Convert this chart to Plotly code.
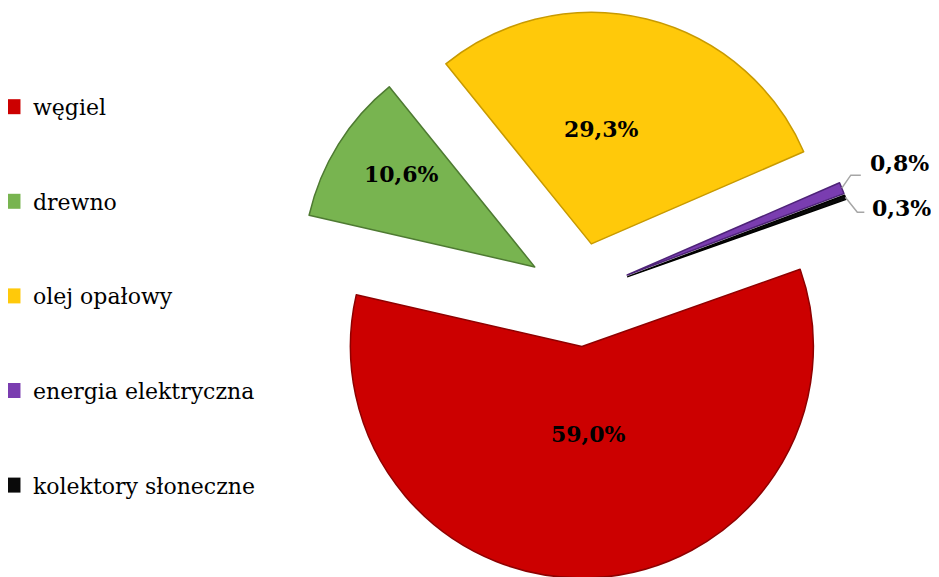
import math
import plotly.graph_objects as go

labels = ["węgiel", "drewno", "olej opałowy", "energia elektryczna", "kolektory słoneczne"]
values = [59.0, 10.6, 29.3, 0.8, 0.3]
text_labels = ["59,0%", "10,6%", "29,3%", "0,8%", "0,3%"]
colors = ["#CC0000", "#78B450", "#FFC90A", "#7A3DB0", "#0A0A0A"]
edge_colors = ["#8E0000", "#4E7A32", "#C89A00", "#4E2378", "#000000"]

W, H = 939, 577
dom_x = [0.306, 0.910]
dom_y = [0.012, 0.995]
rotation = 70.5
pull = 0.225

fig = go.Figure()
fig.add_trace(go.Pie(
    labels=labels, values=values, textinfo="none",
    sort=False, direction="clockwise", rotation=rotation,
    pull=[pull] * len(values),
    marker=dict(colors=colors, line=dict(color=edge_colors, width=1.5)),
    domain=dict(x=dom_x, y=dom_y),
    showlegend=False, hoverinfo="label+percent",
))

# data labels placed from the pie geometry
cx = W * (dom_x[0] + dom_x[1]) / 2
box_h = H * (dom_y[1] - dom_y[0])
cy = H * (1 - dom_y[0]) - box_h / 2
r = min(W * (dom_x[1] - dom_x[0]), box_h) / 2 / (1 + pull)
total = sum(values)
label_font = dict(family="DejaVu Serif", size=22, color="black", weight="bold")
# inside labels: radial position as a fraction of the radius (angle tweak in degrees)
inside_pos = {0: (0.38, -1.0), 1: (0.70, 3.0), 2: (0.50, -8.9)}
# outside labels: (elbow dx, dy, end dx, label dx, label dy) from the slice tip, pixels
leader_offsets = {3: (9, -13, 19, 26, -25), 4: (12, 15, 19, 25, 11)}


def px(x):
    return x / W


def py(y):
    return 1 - y / H


cum = 0.0
for i, v in enumerate(values):
    a0 = rotation + cum / total * 360
    cum += v
    a1 = rotation + cum / total * 360
    am = math.radians((a0 + a1) / 2)
    # pulled apex of the slice
    ax = cx + pull * r * math.sin(am)
    ay = cy - pull * r * math.cos(am)
    if i in inside_pos:
        f, tweak = inside_pos[i]
        al = am + math.radians(tweak)
        fig.add_annotation(x=px(ax + f * r * math.sin(al)), y=py(ay - f * r * math.cos(al)),
                           xref="paper", yref="paper", text=text_labels[i],
                           showarrow=False, xanchor="center", yanchor="middle",
                           font=label_font)
    if i in leader_offsets:
        tx = ax + r * math.sin(am)
        ty = ay - r * math.cos(am)
        ex, ey, endx, lx, ly = leader_offsets[i]
        fig.add_shape(type="path", xref="paper", yref="paper",
                      path=(f"M {px(tx)},{py(ty)} L {px(tx + ex)},{py(ty + ey)} "
                            f"L {px(tx + endx)},{py(ty + ey)}"),
                      line=dict(color="#A6A6A6", width=1.5))
        fig.add_annotation(x=px(tx + lx), y=py(ty + ly), xref="paper", yref="paper",
                           text=text_labels[i], showarrow=False,
                           xanchor="left", yanchor="middle", font=label_font)

for i, (lab, col) in enumerate(zip(labels, colors)):
    fig.add_trace(go.Scatter(
        x=[None], y=[None], mode="markers", name=lab,
        marker=dict(symbol="square", size=15, color=col),
        legendgroup=f"g{i}", showlegend=True,
    ))

fig.update_layout(
    width=W, height=H,
    margin=dict(l=0, r=0, t=0, b=0, autoexpand=False),
    paper_bgcolor="white", plot_bgcolor="white",
    xaxis=dict(visible=False), yaxis=dict(visible=False),
    legend=dict(x=-0.016, y=0.865, xanchor="left", yanchor="top",
                font=dict(family="DejaVu Serif", size=22, color="black"),
                tracegroupgap=63, bgcolor="rgba(0,0,0,0)"),
)
fig.write_html("out.html")
